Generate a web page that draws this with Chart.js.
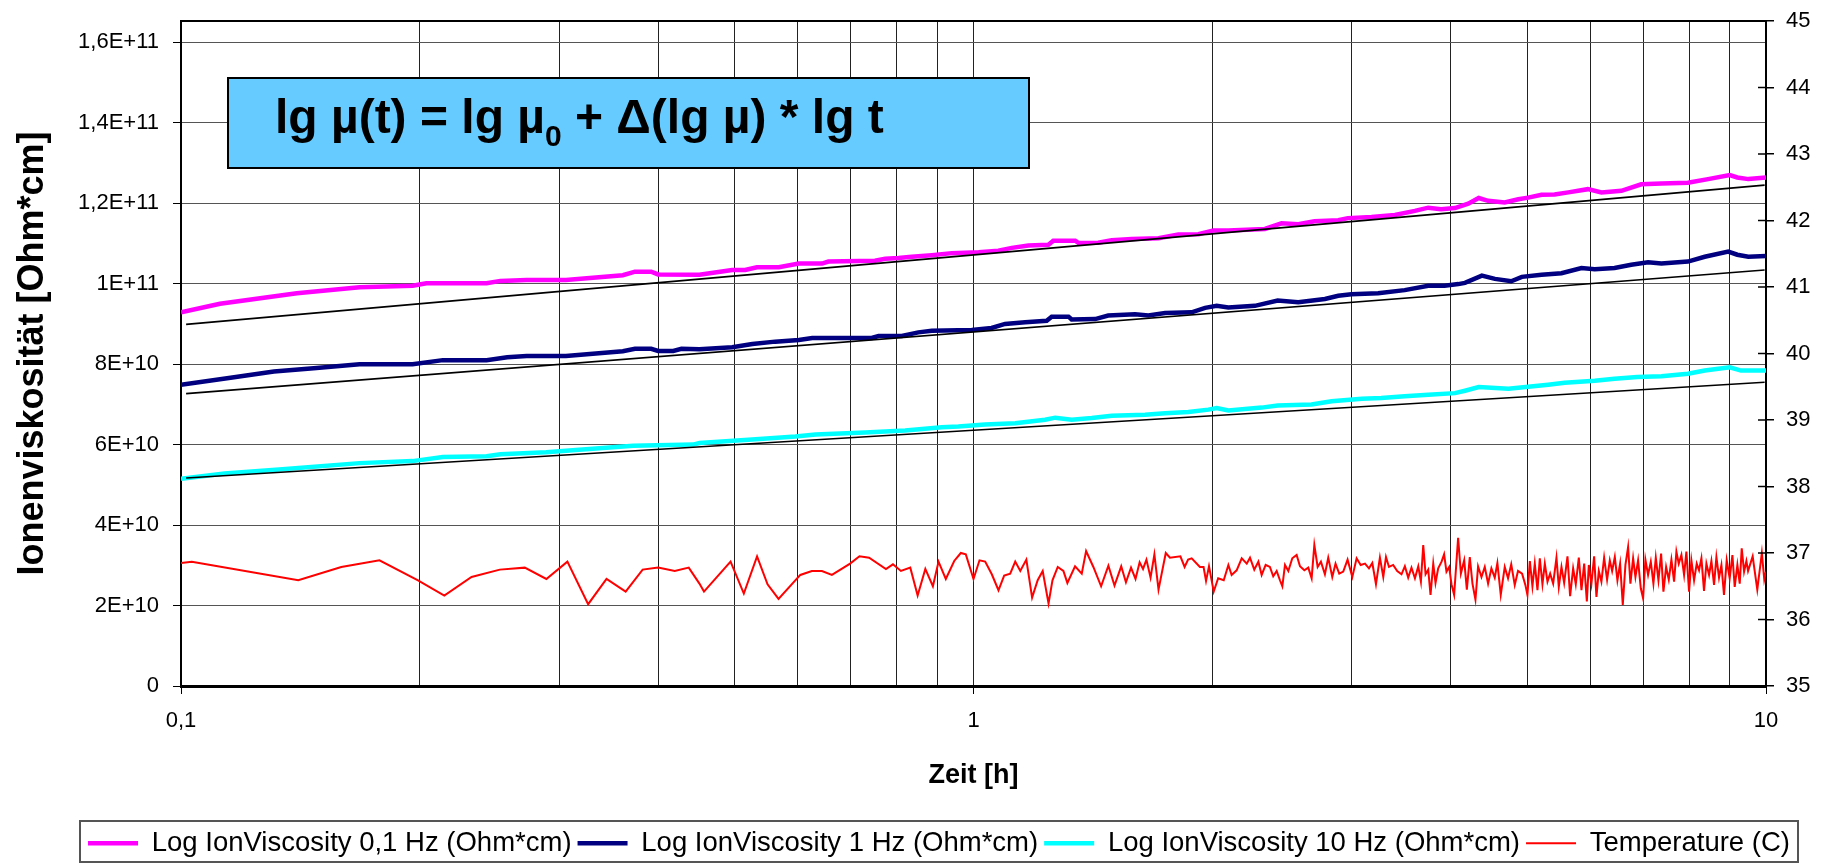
<!DOCTYPE html>
<html>
<head>
<meta charset="utf-8">
<title>Ionenviskosität</title>
<script src="https://cdn.jsdelivr.net/npm/chart.js@4"></script>
<style>
  html, body { margin: 0; padding: 0; background: #fff; }
  #wrap { width: 1826px; height: 864px; position: relative; }
</style>
</head>
<body>
<div id="wrap"><canvas id="ionChart"></canvas></div>
<script>
// Values: time in hours, ion viscosity in Ohm*cm, temperature in °C

// Log IonViscosity 0,1 Hz
const visc01Time = [0.1, 0.112, 0.14, 0.168, 0.196, 0.204, 0.243, 0.253, 0.273, 0.306, 0.361, 0.374, 0.392, 0.4, 0.451,
  0.496, 0.515, 0.533, 0.568, 0.602, 0.644, 0.656, 0.751, 0.774, 0.804, 0.836, 0.886, 0.939, 1.015, 1.075, 1.118, 1.173,
  1.243, 1.261, 1.344, 1.357, 1.437, 1.494, 1.584, 1.712, 1.814, 1.922, 2.008, 2.097, 2.332, 2.448, 2.569, 2.694, 2.886,
  2.968, 3.179, 3.402, 3.605, 3.748, 3.89, 4.05, 4.21, 4.34, 4.46, 4.68, 4.87, 5.01, 5.21, 5.41, 5.63, 5.96, 6.2, 6.57,
  6.96, 7.38, 7.97, 8.45, 9.0, 9.2, 9.5, 10];
const visc01 = [9.29e10, 9.50e10, 9.76e10, 9.91e10, 9.95e10, 10.01e10, 10.01e10, 10.07e10, 10.09e10, 10.09e10, 10.21e10,
  10.30e10, 10.30e10, 10.23e10, 10.22e10, 10.34e10, 10.34e10, 10.41e10, 10.41e10, 10.50e10, 10.50e10, 10.55e10, 10.57e10,
  10.62e10, 10.64e10, 10.67e10, 10.71e10, 10.76e10, 10.78e10, 10.82e10, 10.89e10, 10.95e10, 10.97e10, 11.07e10, 11.07e10,
  11.01e10, 11.02e10, 11.08e10, 11.11e10, 11.13e10, 11.22e10, 11.23e10, 11.32e10, 11.32e10, 11.36e10, 11.50e10, 11.48e10,
  11.55e10, 11.58e10, 11.63e10, 11.66e10, 11.71e10, 11.81e10, 11.89e10, 11.85e10, 11.88e10, 11.99e10, 12.13e10, 12.06e10,
  12.02e10, 12.10e10, 12.14e10, 12.21e10, 12.22e10, 12.27e10, 12.35e10, 12.27e10, 12.31e10, 12.47e10, 12.49e10, 12.51e10,
  12.60e10, 12.70e10, 12.64e10, 12.60e10, 12.64e10];

// Log IonViscosity 1 Hz
const visc1Time = [0.1, 0.1155, 0.131, 0.147, 0.168, 0.196, 0.214, 0.243, 0.258, 0.273, 0.306, 0.361, 0.374, 0.392, 0.4,
  0.418, 0.428, 0.451, 0.496, 0.526, 0.562, 0.602, 0.626, 0.744, 0.759, 0.812, 0.852, 0.886, 0.995, 1.054, 1.096, 1.162,
  1.237, 1.255, 1.318, 1.33, 1.424, 1.479, 1.599, 1.662, 1.745, 1.885, 1.96, 2.027, 2.097, 2.265, 2.42, 2.569, 2.776,
  2.886, 2.998, 3.24, 3.5, 3.748, 3.93, 4.09, 4.17, 4.38, 4.55, 4.77, 4.92, 5.21, 5.52, 5.85, 6.08, 6.44, 6.76, 7.1,
  7.38, 7.97, 8.37, 8.96, 9.2, 9.5, 10];
const visc1 = [7.49e10, 7.66e10, 7.82e10, 7.90e10, 8.00e10, 8.00e10, 8.10e10, 8.10e10, 8.17e10, 8.20e10, 8.20e10, 8.32e10,
  8.38e10, 8.38e10, 8.33e10, 8.33e10, 8.38e10, 8.37e10, 8.42e10, 8.50e10, 8.56e10, 8.60e10, 8.65e10, 8.65e10, 8.70e10,
  8.70e10, 8.79e10, 8.83e10, 8.85e10, 8.90e10, 9.00e10, 9.04e10, 9.08e10, 9.18e10, 9.18e10, 9.11e10, 9.12e10, 9.21e10,
  9.24e10, 9.21e10, 9.27e10, 9.29e10, 9.40e10, 9.45e10, 9.41e10, 9.45e10, 9.58e10, 9.54e10, 9.62e10, 9.70e10, 9.74e10,
  9.76e10, 9.84e10, 9.95e10, 9.95e10, 9.99e10, 10.02e10, 10.20e10, 10.12e10, 10.06e10, 10.17e10, 10.22e10, 10.26e10,
  10.39e10, 10.36e10, 10.39e10, 10.47e10, 10.53e10, 10.50e10, 10.55e10, 10.67e10, 10.80e10, 10.72e10, 10.67e10, 10.69e10];

// Log IonViscosity 10 Hz
const visc10Time = [0.1, 0.1135, 0.133, 0.168, 0.196, 0.214, 0.243, 0.253, 0.289, 0.318, 0.372, 0.443, 0.451, 0.52, 0.596,
  0.632, 0.73, 0.82, 0.912, 0.957, 1.034, 1.129, 1.231, 1.268, 1.33, 1.41, 1.494, 1.646, 1.745, 1.867, 1.979, 2.027, 2.097,
  2.31, 2.42, 2.67, 2.83, 3.09, 3.27, 3.5, 3.748, 4.05, 4.17, 4.34, 4.73, 5.01, 5.31, 5.57, 6.08, 6.44, 6.88, 7.38, 7.97,
  8.37, 9.0, 9.3, 10];
const visc10 = [5.15e10, 5.28e10, 5.38e10, 5.54e10, 5.59e10, 5.69e10, 5.71e10, 5.76e10, 5.81e10, 5.87e10, 5.97e10, 6.00e10,
  6.04e10, 6.12e10, 6.20e10, 6.25e10, 6.30e10, 6.35e10, 6.43e10, 6.45e10, 6.50e10, 6.53e10, 6.62e10, 6.67e10, 6.62e10,
  6.66e10, 6.72e10, 6.74e10, 6.78e10, 6.81e10, 6.87e10, 6.91e10, 6.85e10, 6.92e10, 6.97e10, 7.00e10, 7.08e10, 7.14e10,
  7.16e10, 7.20e10, 7.24e10, 7.28e10, 7.34e10, 7.43e10, 7.39e10, 7.44e10, 7.49e10, 7.54e10, 7.59e10, 7.64e10, 7.68e10,
  7.70e10, 7.76e10, 7.84e10, 7.92e10, 7.84e10, 7.84e10];

// Temperature (C), right axis
const tempTime = [0.1, 0.1032, 0.1406, 0.1593, 0.178, 0.1991, 0.2149, 0.2326, 0.2525, 0.2715, 0.2891, 0.3073, 0.3264,
  0.3443, 0.364, 0.3824, 0.4, 0.4198, 0.4372, 0.451, 0.457, 0.4937, 0.5131, 0.5332, 0.5497, 0.5675, 0.6046, 0.6252,
  0.6438, 0.6627, 0.6987, 0.718, 0.7384, 0.7754, 0.7913, 0.8099, 0.8322, 0.8502, 0.8694, 0.8887, 0.9034, 0.9227, 0.9455,
  0.9638, 0.9779, 1.0, 1.0176, 1.0345, 1.0546, 1.0753, 1.0932, 1.1125, 1.1289, 1.1456, 1.166, 1.1856, 1.205, 1.2227,
  1.2436, 1.2579, 1.2773, 1.2985, 1.3136, 1.3432, 1.3696, 1.387, 1.4166, 1.4488, 1.4798, 1.5063, 1.536, 1.5572, 1.5804,
  1.6012, 1.6204, 1.6365, 1.6528, 1.6727, 1.6914, 1.7118, 1.7483, 1.7696, 1.8242, 1.8466, 1.8655, 1.8852, 1.9305, 1.9512,
  1.9653, 1.9822, 2.0097, 2.0357, 2.069,
  2.097, 2.117, 2.148, 2.18, 2.212, 2.233, 2.261, 2.288, 2.31, 2.337, 2.366, 2.389, 2.413, 2.436, 2.453, 2.472, 2.496,
  2.525, 2.557, 2.582, 2.615, 2.645, 2.671, 2.692, 2.718, 2.744, 2.776, 2.803, 2.836, 2.863, 2.894, 2.928, 2.965, 3.006,
  3.044, 3.08, 3.119, 3.155, 3.186, 3.22, 3.257, 3.289, 3.315, 3.344, 3.385, 3.425, 3.468, 3.502, 3.536, 3.57, 3.606,
  3.641, 3.669, 3.694, 3.719, 3.748, 3.773, 3.803, 3.828, 3.858, 3.896, 3.925, 3.952, 3.983, 4.01, 4.041, 4.088, 4.121,
  4.161, 4.193, 4.229, 4.262, 4.299, 4.332, 4.375, 4.417, 4.46, 4.503, 4.547, 4.582, 4.627, 4.681, 4.726, 4.77, 4.819,
  4.865, 4.923, 4.97, 5.0, 5.035, 5.073, 5.108, 5.148, 5.183, 5.223, 5.259, 5.3, 5.341, 5.388, 5.44, 5.477, 5.52, 5.563,
  5.617, 5.66, 5.71, 5.754, 5.805, 5.85, 5.896, 5.942, 5.976, 6.022, 6.069, 6.11, 6.152, 6.199, 6.248, 6.302, 6.352,
  6.395, 6.445, 6.494, 6.545, 6.596, 6.647, 6.699, 6.744, 6.797, 6.843, 6.896, 6.95, 6.997, 7.044, 7.099, 7.155, 7.21,
  7.26, 7.316, 7.373, 7.423, 7.481, 7.539, 7.597, 7.656, 7.708, 7.761, 7.821, 7.882, 7.935, 7.997, 8.051, 8.114, 8.177,
  8.232, 8.289, 8.352, 8.41, 8.475, 8.533, 8.599, 8.658, 8.724, 8.785, 8.851, 8.921, 8.999, 9.07, 9.131, 9.202, 9.265,
  9.319, 9.383, 9.446, 9.492, 9.62, 9.75, 9.88, 9.95, 10];
const tempValue = [36.85, 36.87, 36.59, 36.79, 36.89, 36.59, 36.36, 36.64, 36.75, 36.78, 36.61, 36.87, 36.23, 36.61, 36.42,
  36.75, 36.78, 36.73, 36.78, 36.54, 36.42, 36.87, 36.39, 36.95, 36.53, 36.31, 36.67, 36.73, 36.73, 36.67, 36.84, 36.95,
  36.93, 36.76, 36.83, 36.73, 36.78, 36.36, 36.76, 36.50, 36.87, 36.61, 36.88, 37.00, 36.98, 36.61, 36.89, 36.87, 36.68,
  36.44, 36.66, 36.69, 36.87, 36.73, 36.90, 36.33, 36.59, 36.73, 36.24, 36.59, 36.79, 36.73, 36.55, 36.80, 36.69, 37.03,
  36.79, 36.50, 36.81, 36.51, 36.80, 36.56, 36.78, 36.61, 36.86, 36.76, 36.90, 36.63, 36.98, 36.45, 37.00, 36.93, 36.95,
  36.79, 36.90, 36.92, 36.79, 36.79, 36.58, 36.80, 36.42, 36.62, 36.59,
  36.82, 36.67, 36.74, 36.92, 36.84, 36.93, 36.75, 36.87, 36.67, 36.82, 36.79, 36.65, 36.73, 36.59, 36.50, 36.82, 36.73,
  36.92, 36.97, 36.80, 36.74, 36.78, 36.62, 37.12, 36.79, 36.87, 36.68, 36.93, 36.64, 36.84, 36.69, 36.72, 36.90, 36.64,
  36.92, 36.82, 36.84, 36.77, 36.85, 36.53, 36.93, 36.64, 36.94, 36.79, 36.82, 36.73, 36.68, 36.80, 36.63, 36.78, 36.62,
  36.80, 36.57, 37.12, 36.68, 36.75, 36.37, 36.84, 36.55, 36.77, 36.87, 36.98, 36.72, 36.79, 36.53, 36.37, 37.23, 36.69,
  36.89, 36.45, 36.94, 36.54, 36.30, 36.80, 36.64, 36.79, 36.54, 36.77, 36.63, 36.85, 36.37, 36.79, 36.62, 36.83, 36.52,
  36.73, 36.69, 36.52, 36.37, 36.88, 36.50, 36.84, 36.44, 36.92, 36.53, 36.84, 36.57, 36.69, 36.54, 36.93, 36.49, 36.79,
  36.55, 36.95, 36.35, 36.77, 36.53, 36.93, 36.44, 36.84, 36.27, 36.82, 36.54, 36.95, 36.34, 36.73, 36.57, 36.93, 36.60,
  36.89, 36.73, 36.94, 36.59, 36.84, 36.22, 36.82, 37.09, 36.54, 36.92, 36.64, 36.89, 36.47, 36.32, 36.90, 36.67, 36.87,
  36.54, 36.93, 36.59, 36.99, 36.42, 36.79, 36.60, 36.90, 36.57, 37.02, 36.84, 36.97, 36.67, 37.02, 36.42, 36.89, 36.59,
  36.84, 36.74, 36.92, 36.43, 36.84, 36.67, 36.88, 36.52, 36.94, 36.63, 36.82, 36.37, 36.89, 36.62, 36.97, 36.49, 36.82,
  36.54, 37.07, 36.72, 36.88, 36.73, 36.95, 36.45, 37.00, 36.60, 36.72];

// Fitted lines lg µ(t) = lg µ0 + Δ(lg µ) * lg t
const fitTime = [0.1015, 9.96];
const fit01 = [8.99e10, 12.45e10];
const fit1 = [7.27e10, 10.34e10];
const fit10 = [5.17e10, 7.55e10];

// Axis ticks
const yTickValues = [0, 2e10, 4e10, 6e10, 8e10, 1e11, 1.2e11, 1.4e11, 1.6e11];
const yTickLabels = ['0', '2E+10', '4E+10', '6E+10', '8E+10', '1E+11', '1,2E+11', '1,4E+11', '1,6E+11'];
const tempTickValues = [35, 36, 37, 38, 39, 40, 41, 42, 43, 44, 45];
const tempTickLabels = ['35', '36', '37', '38', '39', '40', '41', '42', '43', '44', '45'];
const xGridValues = [0.1, 0.2, 0.3, 0.4, 0.5, 0.6, 0.7, 0.8, 0.9, 1, 2, 3, 4, 5, 6, 7, 8, 9, 10];
const xLabelValues = [0.1, 1, 10];
const xTickLabels = ['0,1', '1', '10'];

const fontFamily = 'Arial, "Liberation Sans", sans-serif';
Chart.defaults.font.family = fontFamily;
Chart.defaults.color = '#000';

const toPoints = (times, values) => times.map((t, i) => ({ x: t, y: values[i] }));

// vertical axes: no extra room above/below the plot for half labels
const noVerticalPadding = s => { s.paddingTop = 0; s.paddingBottom = 0; };

// Extra drawing: top frame line, inner ticks of the temperature axis, formula box, legend frame
const chartDecor = {
    id: 'chartDecor',
    afterLayout(chart) {
        // legend sits a little right of centre and a bit lower in the original
        chart.legend.left += 26;
        chart.legend.right += 26;
        chart.legend.top += 3;
        chart.legend.bottom += 3;
    },
    afterDraw(chart) {
        const { ctx, chartArea: a, scales } = chart;
        ctx.save();
        ctx.strokeStyle = '#000';
        ctx.lineWidth = 2;
        ctx.beginPath();
        ctx.moveTo(a.left, a.top);
        ctx.lineTo(a.right, a.top);
        ctx.stroke();

        ctx.lineWidth = 1.5;
        scales.y2.ticks.forEach(t => {
            const py = scales.y2.getPixelForValue(t.value);
            ctx.beginPath();
            ctx.moveTo(a.right - 8, py);
            ctx.lineTo(a.right, py);
            ctx.stroke();
        });

        // formula box
        const bx = a.left + 47, by = a.top + 57, bw = 801, bh = 90;
        ctx.fillStyle = '#66CCFF';
        ctx.fillRect(bx, by, bw, bh);
        ctx.lineWidth = 2;
        ctx.strokeRect(bx, by, bw, bh);
        ctx.fillStyle = '#000';
        ctx.textAlign = 'left';
        ctx.textBaseline = 'alphabetic';
        const base = by + 55;
        let x = bx + 47;
        ctx.font = 'bold 48px ' + fontFamily;
        ctx.fillText('lg µ(t) = lg µ', x, base);
        x += ctx.measureText('lg µ(t) = lg µ').width;
        ctx.font = 'bold 30px ' + fontFamily;
        ctx.fillText('0', x, base + 13);
        x += ctx.measureText('0').width;
        ctx.font = 'bold 48px ' + fontFamily;
        ctx.fillText(' + Δ(lg µ) * lg t', x, base);

        // legend frame
        const lt = chart.height - 43;
        ctx.strokeStyle = '#555';
        ctx.lineWidth = 2;
        ctx.strokeRect(80, lt, chart.width - 108, 41);
        ctx.restore();
    }
};

const ctx = document.getElementById('ionChart').getContext('2d');
const ionChart = new Chart(ctx, {
    type: 'line',
    data: {
        datasets: [
            { label: 'Log IonViscosity 0,1 Hz (Ohm*cm)', data: toPoints(visc01Time, visc01), borderColor: '#FF00FF', backgroundColor: '#FF00FF', borderWidth: 4.5, yAxisID: 'y', order: 1 },
            { label: 'Log IonViscosity 1 Hz (Ohm*cm)', data: toPoints(visc1Time, visc1), borderColor: '#000080', backgroundColor: '#000080', borderWidth: 4.5, yAxisID: 'y', order: 1 },
            { label: 'Log IonViscosity 10 Hz (Ohm*cm)', data: toPoints(visc10Time, visc10), borderColor: '#00FFFF', backgroundColor: '#00FFFF', borderWidth: 4.5, yAxisID: 'y', order: 1 },
            { label: 'Temperature (C)', data: toPoints(tempTime, tempValue), borderColor: '#FF0000', backgroundColor: '#FF0000', borderWidth: 2, yAxisID: 'y2', order: 1 },
            { label: '', data: toPoints(fitTime, fit01), borderColor: '#000', borderWidth: 1.7, yAxisID: 'y', order: 0 },
            { label: '', data: toPoints(fitTime, fit1), borderColor: '#000', borderWidth: 1.7, yAxisID: 'y', order: 0 },
            { label: '', data: toPoints(fitTime, fit10), borderColor: '#000', borderWidth: 1.7, yAxisID: 'y', order: 0 }
        ]
    },
    options: {
        responsive: true,
        maintainAspectRatio: false,
        animation: false,
        elements: { point: { radius: 0 }, line: { tension: 0 } },
        layout: { padding: { top: 21, left: 0, right: 0, bottom: 0 } },
        scales: {
            x: {
                type: 'logarithmic',
                min: 0.1,
                max: 10,
                afterBuildTicks: s => { s.ticks = xGridValues.map(v => ({ value: v })); },
                afterFit: s => { s.height = 134.5; },
                ticks: {
                    autoSkip: false,
                    maxRotation: 0,
                    padding: 14,
                    font: { size: 22 },
                    callback: v => {
                        const i = xLabelValues.indexOf(v);
                        return i < 0 ? '' : xTickLabels[i];
                    }
                },
                grid: {
                    color: '#222',
                    lineWidth: 1,
                    tickLength: 8,
                    tickColor: c => (c.tick && xLabelValues.includes(c.tick.value)) ? '#000' : 'rgba(0,0,0,0)'
                },
                border: { color: '#000', width: 3 },
                title: { display: true, text: 'Zeit [h]', font: { size: 27, weight: 'bold' }, padding: { top: 0, bottom: 29 } }
            },
            y: {
                type: 'linear',
                position: 'left',
                min: 0,
                max: 1.653e11,
                afterBuildTicks: s => { s.ticks = yTickValues.map(v => ({ value: v })); },
                afterFit: s => { s.width = 181; noVerticalPadding(s); },
                ticks: {
                    padding: 14,
                    font: { size: 22 },
                    callback: v => yTickLabels[yTickValues.indexOf(v)]
                },
                grid: { color: '#555', lineWidth: 1, tickLength: 8, tickColor: '#000' },
                border: { color: '#000', width: 2 },
                title: { display: true, text: 'Ionenviskosität [Ohm*cm]', font: { size: 36, weight: 'bold' }, padding: { top: 11, bottom: 0 } }
            },
            y2: {
                type: 'linear',
                position: 'right',
                min: 35,
                max: 45,
                afterBuildTicks: s => { s.ticks = tempTickValues.map(v => ({ value: v })); },
                afterFit: s => { s.width = 60; noVerticalPadding(s); },
                ticks: {
                    padding: 12,
                    font: { size: 22 },
                    callback: v => tempTickLabels[tempTickValues.indexOf(v)]
                },
                grid: { drawOnChartArea: false, tickLength: 8, color: '#000', lineWidth: 1.5 },
                border: { color: '#000', width: 2 }
            }
        },
        plugins: {
            legend: {
                position: 'bottom',
                labels: {
                    usePointStyle: true,
                    pointStyleWidth: 50,
                    padding: 6,
                    color: '#000',
                    font: { size: 27.5 },
                    generateLabels: chart => chart.data.datasets
                        .map((ds, i) => ({
                            text: ds.label,
                            strokeStyle: ds.borderColor,
                            fillStyle: ds.borderColor,
                            lineWidth: ds.borderWidth,
                            pointStyle: 'line',
                            hidden: false,
                            datasetIndex: i
                        }))
                        .filter(item => item.text)
                }
            },
            tooltip: { enabled: false }
        }
    },
    plugins: [chartDecor]
});
</script>
</body>
</html>
